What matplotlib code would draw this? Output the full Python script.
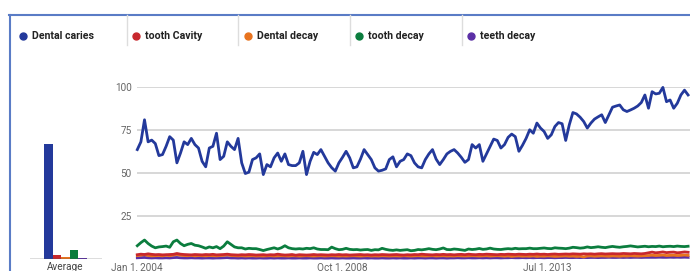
import matplotlib
matplotlib.use('Agg')
import matplotlib.pyplot as plt
from matplotlib.lines import Line2D
import numpy as np

# search terms and colours
terms = ['Dental caries', 'tooth Cavity', 'Dental decay', 'tooth decay', 'teeth decay']
colors = ['#23399b', '#c8282d', '#e8731e', '#0b7d3e', '#5b2fa6']

# average bar heights
averages = [67, 2.5, 1.2, 5.5, 0.5]

# monthly interest, Jan 2004 onward
dental_caries = [
    63.5, 68, 80.8, 68, 69, 67, 60, 60.6, 65.4, 71, 69, 55.8,
    61.5, 68, 66.4, 70, 66.4, 64.4, 56.7, 53.5, 64.4, 65.4, 73, 57.7,
    59.6, 68, 65.4, 63.5, 70, 55.8, 49.6, 50.4, 57.7, 58.7, 61, 49,
    54.8, 53.5, 58.7,
    61.5, 56.7, 61, 54.8, 54.2, 54.2, 55.8, 62.5, 49, 56.7,
    61.9, 60.6, 63.5, 59.6, 55.8, 53, 51, 55.8, 59, 62.5,
    58.7, 52.9, 53.5, 58, 63.5, 60.6, 57.7, 52.9, 51, 51.5,
    52.3, 57.7, 59.3, 53.5, 56.7, 57.7, 61, 60, 55.8, 53.5,
    52.9, 57.7, 61, 63.5, 58, 54.8, 57.7, 61, 62.5, 63.5,
    61.5, 59, 56.1, 57.7, 66.4, 64.4, 66.4, 56.7, 61, 65.4,
    69.6, 68.8, 64.4, 66.4, 70.6, 72.5, 71, 62.5, 66, 70,
    75, 73, 78.9, 76, 74, 70, 72.1, 76.9,
    79.2, 78.5, 68.8, 77.9, 85, 84.2, 82.3, 79.8, 76, 78.9,
    81.2, 82.5, 83.7, 79.2, 83.7, 88.1, 88.8, 89.4, 86.6, 85.6,
    86.5, 87.5, 88.8, 90.8, 95.2, 87.5, 97.1, 95.8, 96.2, 99.6,
    91.3, 92.3, 87.5, 90.4, 95.2, 98, 95.2,
]

tooth_cavity = [
    2.5, 2.8, 2.6, 3.0, 2.7, 2.5, 2.6, 2.4, 2.5, 2.6, 2.7, 3.2,
    2.8, 2.6, 2.5, 2.4, 2.6, 2.5, 2.4, 2.6, 2.5, 2.7, 2.4, 2.5,
    2.6, 2.8, 2.5, 2.4, 2.3, 2.5, 2.4, 2.6, 2.5, 2.3, 2.4, 2.5,
    2.3, 2.5, 2.4, 2.8, 2.5, 2.3, 2.4, 2.6, 2.2, 2.5, 2.4, 2.3,
    2.4, 2.6, 2.4, 2.5, 2.4, 2.3, 2.5, 2.4, 2.6, 2.4, 2.5, 2.3,
    2.4, 2.5, 2.6, 2.4, 2.5, 2.3, 2.5, 2.4, 2.6, 2.5, 2.4, 2.5,
    2.6, 2.4, 2.3, 2.5, 2.4, 2.6, 2.5, 2.8, 2.6, 2.5, 2.4, 2.6,
    2.5, 2.7, 2.5, 2.6, 2.4, 2.6, 2.7, 2.5, 2.8, 2.6, 2.5, 2.7,
    2.6, 2.8, 2.7, 2.6, 2.5, 2.7, 2.6, 2.8, 2.7, 2.6, 2.8, 2.7,
    2.6, 2.8, 2.7, 2.9, 2.7, 2.8, 2.6, 2.8, 2.9, 2.7, 2.8, 2.9,
    2.8, 3.0, 2.9, 2.8, 3.0, 2.9, 3.0, 2.8, 3.0, 3.1, 2.9, 3.0,
    3.1, 3.0, 3.0, 3.2, 3.1, 3.0, 3.2, 3.1, 3.0, 3.2, 3.6, 4.0,
    3.6, 3.8, 4.1, 3.7, 3.9, 4.0, 3.6, 3.8, 4.1, 3.9,
]

dental_decay = [
    2.0, 2.2, 2.5, 2.0, 1.8, 1.9, 2.0, 1.8, 2.2, 1.9, 2.3, 2.6,
    2.2, 2.0, 1.9, 2.1, 1.8, 2.0, 1.9, 1.8, 2.0, 1.9, 1.8, 2.0,
    2.1, 2.4, 2.0, 1.9, 1.8, 1.9, 1.7, 1.8, 1.9, 1.7, 1.8, 1.7,
    1.8, 1.9, 1.7, 1.8, 1.9, 1.8, 1.7, 1.9, 1.8, 1.7, 1.8, 1.9,
    1.8, 1.7, 1.8, 1.9, 1.7, 1.8, 1.9, 1.8, 1.7, 1.8, 1.7, 1.8,
    1.9, 1.8, 1.7, 1.8, 1.9, 1.7, 1.8, 1.7, 1.9, 1.8, 1.7, 1.8,
    1.8, 1.7, 1.9, 1.8, 1.7, 1.8, 1.9, 1.8, 1.7, 1.8, 1.9, 1.7,
    1.8, 1.9, 1.7, 1.8, 1.7, 1.9, 1.8, 1.7, 1.8, 1.9, 1.8, 1.7,
    1.8, 1.9, 1.7, 1.8, 1.9, 1.8, 1.6, 1.8, 1.5, 1.7, 1.8, 1.6,
    1.7, 1.6, 1.8, 1.5, 1.7, 1.6, 1.8, 1.7, 1.5, 1.6, 1.7, 1.8,
    1.6, 1.7, 1.5, 1.6, 1.2, 1.7, 1.8, 1.6, 1.7, 1.8, 1.7, 1.6,
    1.8, 1.7, 1.6, 1.8, 1.7, 1.9, 1.8, 1.7, 1.8, 1.9, 2.0, 2.2,
    2.0, 2.1, 2.3, 2.0, 2.1, 2.2, 2.0, 2.1, 2.3, 2.1,
]

tooth_decay = [
    7.7, 9.5, 11.0, 9.0, 7.5, 6.5, 7.0, 7.2, 7.5, 6.8, 10.0, 11.0,
    9.0, 7.7, 8.5, 9.0, 8.0, 7.7, 7.0, 6.2, 7.0, 6.5, 7.2, 6.0,
    7.5, 10.0, 8.5, 7.0, 6.5, 6.5, 5.8, 6.2, 6.0, 6.0, 5.5, 4.9,
    5.5, 6.0, 6.5, 5.8, 6.5, 7.7, 6.5, 6.0, 5.8, 6.0, 5.8, 6.2,
    6.0, 6.5, 5.8, 5.5, 5.5, 5.4, 6.9, 6.0, 5.4, 5.6, 6.2, 5.6,
    5.4, 5.5, 5.2, 5.4, 5.5, 5.0, 5.4, 5.3, 6.2, 5.6, 5.2, 5.0,
    5.3, 5.0, 5.2, 5.4, 4.8, 5.0, 5.5, 5.3, 5.6, 6.0, 5.6, 5.4,
    5.8, 6.4, 5.5, 5.4, 5.8, 5.6, 5.3, 5.0, 5.8, 5.5, 5.7, 6.1,
    5.6, 5.8, 6.3, 5.8, 5.6, 5.5, 5.8, 6.0, 5.8, 6.2, 5.9, 6.0,
    6.0, 6.3, 6.0, 6.0, 6.2, 6.4, 6.1, 6.0, 6.5, 6.3, 6.2, 6.0,
    6.3, 6.8, 6.6, 6.3, 6.5, 7.0, 6.6, 6.8, 7.1, 6.8, 6.6, 7.0,
    7.3, 7.0, 6.8, 7.1, 7.3, 7.6, 7.3, 7.0, 7.2, 7.4, 7.1, 7.3,
    7.2, 7.5, 7.1, 7.3, 7.4, 7.2, 7.5, 7.3, 7.2, 7.4,
]

teeth_decay = [
    0.7, 0.8, 0.9, 0.7, 0.6, 0.7, 0.6, 0.6, 0.7, 0.6, 0.8, 0.9,
    0.7, 0.6, 0.6, 0.7, 0.6, 0.6, 0.5, 0.6, 0.6, 0.5, 0.6, 0.6,
    0.7, 0.8, 0.6, 0.6, 0.5, 0.6, 0.5, 0.6, 0.5, 0.5, 0.6, 0.5,
    0.5, 0.6, 0.5, 0.6, 0.5, 0.5, 0.6, 0.5, 0.5, 0.6, 0.5, 0.5,
    0.6, 0.5, 0.5, 0.6, 0.5, 0.5, 0.6, 0.5, 0.5, 0.6, 0.5, 0.5,
    0.6, 0.5, 0.5, 0.6, 0.5, 0.6, 0.5, 0.5, 0.6, 0.5, 0.5, 0.6,
    0.5, 0.6, 0.5, 0.5, 0.6, 0.5, 0.6, 0.6, 0.5, 0.6, 0.6, 0.5,
    0.6, 0.6, 0.5, 0.6, 0.6, 0.7, 0.6, 0.6, 0.7, 0.6, 0.6, 0.7,
    0.6, 0.7, 0.6, 0.7, 0.7, 0.6, 0.7, 0.7, 0.8, 0.7, 0.7, 0.8,
    0.7, 0.8, 0.7, 0.8, 0.8, 0.7, 0.8, 0.8, 0.7, 0.8, 0.8, 0.9,
    0.8, 0.8, 0.9, 0.8, 0.9, 0.8, 0.9, 0.9, 0.8, 0.9, 0.9, 1.0,
    0.9, 0.9, 1.0, 0.9, 1.0, 0.9, 1.0, 1.0, 0.9, 1.0, 1.0, 1.0,
    1.0, 1.1, 1.0, 1.0, 1.1, 1.0, 1.1, 1.0, 1.1, 1.0,
]

series = [dental_caries, tooth_cavity, dental_decay, tooth_decay, teeth_decay]

# x tick labels (month index from Jan 2004)
date_ticks = [0, 57, 114]
date_labels = ['Jan 1, 2004', 'Oct 1, 2008', 'Jul 1, 2013']
y_ticks = [0, 25, 50, 75, 100]
y_labels = ['', '25', '50', '75', '100']

W, H = 690, 271
plt.rcParams['font.family'] = ['Roboto', 'DejaVu Sans']

fig = plt.figure(figsize=(W / 100, H / 100), dpi=100)


def fx(px):
    return px / W


def fy(py):
    return 1 - py / H


y0, y100 = 259, 86.7

# main time series
ax = fig.add_axes([fx(137.3), fy(y0), fx(690 - 137.3), (y0 - y100) / H])
months = np.arange(len(dental_caries))
for vals, c in reversed(list(zip(series, colors))):
    ax.plot(months[:len(vals)], vals, color=c, lw=2.0, clip_on=False,
            solid_joinstyle='round')
ax.set_xlim(0, (690 - 137.3) / 3.6)
ax.set_ylim(0, 100)
ax.set_yticks(y_ticks)
ax.set_yticklabels(y_labels)
ax.set_xticks(date_ticks)
ax.set_xticklabels(date_labels)
ax.grid(axis='y', color='#d4d4d4', lw=1.3)
ax.set_axisbelow(True)
ax.tick_params(length=0, labelsize=7.2, labelcolor='#666666')
ax.tick_params(axis='y', pad=4)
ax.tick_params(axis='x', pad=2.5)
for s in ax.spines.values():
    s.set_visible(False)

# average bars
bx = fig.add_axes([fx(30), fy(y0), fx(72), (y0 - y100) / H])
bx.bar(np.arange(len(averages)), averages, width=1.0, color=colors)
bx.set_xlim(-2.2, 6.3)
bx.set_ylim(0, 100)
bx.axhline(0, color='#555555', lw=1.0)
bx.set_xticks([2])
bx.set_xticklabels(['Average'])
bx.set_yticks([])
bx.tick_params(length=0, labelsize=7.2, labelcolor='#444444', pad=2.5)
for s in bx.spines.values():
    s.set_visible(False)

# outer frame
frame_c = '#5a7cc6'
fig.add_artist(Line2D([fx(9.5), fx(9.5)], [fy(14.5), 0], color=frame_c, lw=1.5))
fig.add_artist(Line2D([fx(9), 1], [fy(14.5), fy(14.5)], color=frame_c, lw=1.5))

# legend row
for xd in [127, 238, 350, 462]:
    fig.add_artist(Line2D([fx(xd), fx(xd)], [fy(15), fy(45)], color='#dddddd', lw=1))
for xp, name, c in zip([23, 136, 248, 359, 471], terms, colors):
    fig.add_artist(Line2D([fx(xp)], [fy(36)], marker='o', ms=5, color=c, mec=c))
    fig.text(fx(xp + 9), fy(36), name, fontsize=7.6, fontweight='bold',
             color='#222222', va='center', ha='left')

fig.savefig('out.png', dpi=100, facecolor='white')
